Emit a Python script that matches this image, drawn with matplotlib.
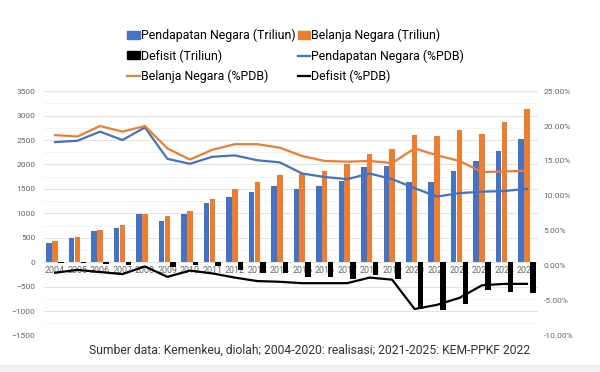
import numpy as np
import matplotlib
matplotlib.use("Agg")
import matplotlib.pyplot as plt
from matplotlib.patches import Patch, Rectangle
from matplotlib.lines import Line2D
from matplotlib.ticker import FuncFormatter, MultipleLocator

plt.rcParams['font.family'] = ['Roboto', 'DejaVu Sans']

# data
years = [str(y) for y in range(2004, 2026)]
pendapatan = [403, 495, 638, 708, 982, 849, 995, 1211, 1338, 1439, 1551,
              1508, 1556, 1666, 1944, 1961, 1648, 1640, 1860, 2066, 2272, 2526]
belanja = [427, 510, 667, 758, 986, 937, 1042, 1295, 1491, 1651, 1777,
           1807, 1864, 2007, 2213, 2309, 2596, 2587, 2711, 2629, 2869, 3143]
defisit = [-24, -14, -29, -50, -4, -89, -47, -84, -153, -212, -227,
           -299, -308, -341, -269, -349, -948, -970, -850, -570, -600, -620]
pendapatan_pdb = [17.7, 17.9, 19.2, 18.0, 19.8, 15.3, 14.6, 15.6, 15.8, 15.1, 14.8,
                  13.2, 12.7, 12.4, 13.2, 12.4, 11.1, 9.9, 10.4, 10.6, 10.7, 11.0]
belanja_pdb = [18.7, 18.5, 20.0, 19.2, 20.0, 16.8, 15.2, 16.6, 17.4, 17.4, 16.9,
               15.7, 15.0, 14.9, 15.0, 14.7, 16.8, 15.8, 15.0, 13.4, 13.5, 13.6]
defisit_pdb = [-1.0, -0.6, -0.9, -1.2, -0.1, -1.6, -0.7, -1.1, -1.7, -2.2, -2.3,
               -2.5, -2.5, -2.5, -1.7, -2.0, -6.2, -5.6, -4.6, -2.8, -2.6, -2.6]

blue = "#4472C4"
orange = "#ED7D31"
grey = "#666666"

fig = plt.figure(figsize=(6, 3.72), dpi=100)
fig.patches.append(Rectangle((0, 0), 1, 7 / 372, transform=fig.transFigure,
                             color="#f1f1f1", zorder=0))

ax = fig.add_axes([0.073, 0.098, 0.824, 0.657])
x = np.arange(len(years))
w = 0.245
off = 0.26

ax.bar(x - off, pendapatan, w, color=blue, zorder=2)
ax.bar(x, belanja, w, color=orange, zorder=2)
ax.bar(x + off, defisit, w, color="black", zorder=3)

ax.set_xlim(-0.5, len(years) - 0.5)
ax.set_ylim(-1500, 3500)
ax.yaxis.set_major_locator(MultipleLocator(500))
ax.yaxis.set_minor_locator(MultipleLocator(250))
ax.grid(axis="y", which="major", color="#e3e3e3", linewidth=0.8, zorder=0)
ax.grid(axis="y", which="minor", color="#f2f2f2", linewidth=0.6, zorder=0)
ax.set_axisbelow(True)

ax.set_xticks(x)
ax.set_xticklabels(years)
ax.spines["bottom"].set_position(("data", 0))
for s in ax.spines.values():
    s.set_visible(False)
ax.tick_params(axis="x", length=0, pad=2.5, labelsize=6.4, labelcolor=grey)
ax.tick_params(axis="y", which="both", length=0, pad=6, labelsize=6, labelcolor=grey)

ax2 = ax.twinx()
ax2.set_ylim(-10, 25)
ax2.plot(x, pendapatan_pdb, color=blue, linewidth=1.6, zorder=4)
ax2.plot(x, belanja_pdb, color=orange, linewidth=1.6, zorder=4)
ax2.plot(x, defisit_pdb, color="black", linewidth=1.6, zorder=4)
ax2.yaxis.set_major_locator(MultipleLocator(5))
ax2.yaxis.set_major_formatter(FuncFormatter(lambda v, p: f"{v:.2f}%"))
for s in ax2.spines.values():
    s.set_visible(False)
ax2.tick_params(axis="y", length=0, pad=4, labelsize=6, labelcolor=grey)

handles = [
    Patch(color=blue, label="Pendapatan Negara (Triliun)"),
    Patch(color="black", label="Defisit (Triliun)"),
    Line2D([], [], color=orange, linewidth=1.6, label="Belanja Negara (%PDB)"),
    Patch(color=orange, label="Belanja Negara (Triliun)"),
    Line2D([], [], color=blue, linewidth=1.6, label="Pendapatan Negara (%PDB)"),
    Line2D([], [], color="black", linewidth=1.6, label="Defisit (%PDB)"),
]
fig.legend(handles=handles, loc="upper left", bbox_to_anchor=(0.212, 0.922),
           ncol=2, frameon=False, fontsize=8.9, handlelength=1.0,
           handleheight=0.6, handletextpad=0.1, columnspacing=0.2,
           labelspacing=0.55, borderaxespad=0, borderpad=0)

fig.text(0.883, 0.058, "Sumber data: Kemenkeu, diolah; 2004-2020: realisasi; 2021-2025: KEM-PPKF 2022",
         ha="right", va="center", fontsize=8.7, color="#333333")

fig.savefig("out.png", dpi=100)
